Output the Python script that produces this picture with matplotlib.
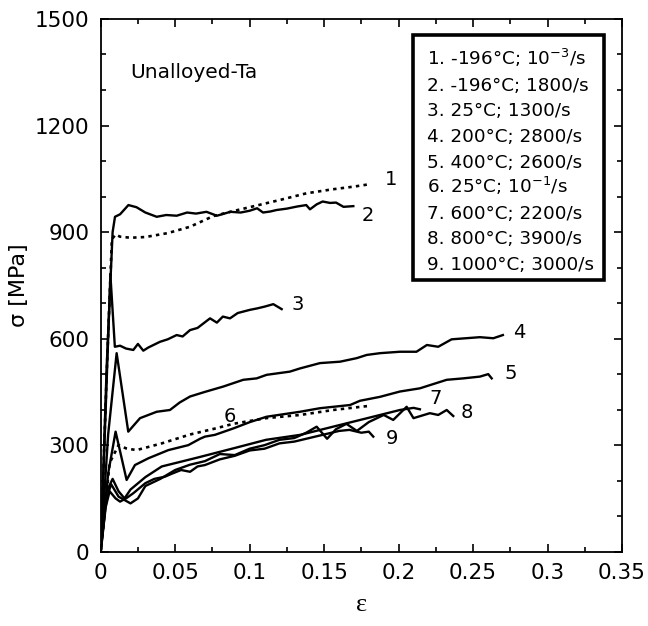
import numpy as np
import matplotlib
matplotlib.use("Agg")
import matplotlib.pyplot as plt
from matplotlib.ticker import MultipleLocator

plt.rcParams['font.family'] = ['DejaVu Sans']
plt.rcParams['mathtext.fontset'] = 'dejavusans'

# curve data (strain, stress in MPa)
c1_x = [0, 0.004, 0.0075, 0.010, 0.013, 0.02, 0.03, 0.045, 0.06, 0.0756, 0.09, 0.105, 0.12, 0.138, 0.155, 0.17, 0.181]
c1_y = [0, 500, 880, 893, 887, 884, 886, 897, 915, 945, 960, 975, 990, 1009, 1020, 1028, 1035]

c2_x = [0, 0.004, 0.008, 0.0096, 0.013, 0.0186, 0.024, 0.03, 0.0376, 0.044, 0.051, 0.058, 0.064, 0.071, 0.078,
        0.083, 0.087, 0.094, 0.1, 0.105, 0.109, 0.114, 0.118, 0.125, 0.132, 0.138, 0.1405, 0.145, 0.149, 0.154,
        0.158, 0.163, 0.1696]
c2_y = [0, 520, 900, 943, 950, 976, 970, 955, 943, 948, 946, 955, 952, 957, 946,
        952, 957, 955, 960, 967, 955, 958, 962, 966, 972, 976, 964, 978, 986, 982,
        983, 971, 973]

c3_x = [0, 0.004, 0.0065, 0.0095, 0.013, 0.017, 0.0219, 0.025, 0.0286, 0.032, 0.0398, 0.045, 0.051, 0.055,
        0.06, 0.065, 0.0734, 0.078, 0.082, 0.0868, 0.092, 0.1002, 0.105, 0.11, 0.1159, 0.1215]
c3_y = [0, 480, 780, 577, 580, 572, 568, 585, 566, 575, 591, 598, 610, 606,
        624, 630, 657, 645, 662, 657, 672, 681, 685, 690, 697, 683]

c4_x = [0, 0.005, 0.0107, 0.0185, 0.0264, 0.032, 0.0376, 0.0465, 0.053, 0.06, 0.07, 0.0823, 0.0957, 0.1047,
        0.1114, 0.127, 0.1338, 0.1472, 0.1607, 0.1719, 0.1786, 0.1876, 0.2009, 0.212, 0.219, 0.2266, 0.2356,
        0.2546, 0.2636, 0.27]
c4_y = [0, 330, 559, 338, 376, 385, 394, 399, 420, 437, 450, 465, 484, 488,
        498, 507, 516, 531, 535, 545, 554, 559, 563, 563, 582, 577, 598,
        604, 601, 610]

c5_x = [0, 0.005, 0.010, 0.0174, 0.023, 0.032, 0.0454, 0.0588, 0.0667, 0.07, 0.0767, 0.089, 0.1002, 0.1114,
        0.1338, 0.1472, 0.1674, 0.1741, 0.1875, 0.2009, 0.2143, 0.2323, 0.2434, 0.2546, 0.2602, 0.2625]
c5_y = [0, 220, 338, 202, 244, 263, 286, 300, 318, 324, 329, 347, 365, 380,
        394, 404, 413, 425, 436, 451, 460, 484, 488, 493, 500, 488]

c6_x = [0, 0.006, 0.012, 0.017, 0.024, 0.041, 0.06, 0.077, 0.089, 0.111, 0.134, 0.156, 0.179]
c6_y = [0, 250, 300, 291, 286, 305, 330, 347, 360, 376, 385, 399, 410]

c7_x = [0, 0.004, 0.008, 0.012, 0.016, 0.02, 0.03, 0.041, 0.065, 0.09, 0.111, 0.134, 0.156, 0.179, 0.2009,
        0.21, 0.2143]
c7_y = [0, 170, 205, 170, 150, 175, 210, 240, 265, 292, 315, 329, 352, 376, 399,
        405, 401]

c8_x = [0, 0.004, 0.007, 0.012, 0.02, 0.025, 0.03, 0.04, 0.05, 0.06, 0.07, 0.08, 0.09, 0.1, 0.11, 0.12, 0.13,
        0.138, 0.145, 0.152, 0.158, 0.165, 0.172, 0.18, 0.19, 0.1964, 0.2054, 0.21, 0.221, 0.2266, 0.2323, 0.2367]
c8_y = [0, 150, 190, 155, 136, 150, 185, 205, 230, 245, 255, 275, 272, 290, 300, 315, 320,
        335, 352, 318, 345, 360, 340, 365, 385, 371, 408, 376, 390, 385, 399, 382]

c9_x = [0, 0.003, 0.006, 0.01, 0.013, 0.017, 0.022, 0.03, 0.036, 0.043, 0.048, 0.054, 0.06, 0.065, 0.07,
        0.08, 0.09, 0.1, 0.11, 0.12, 0.13, 0.14, 0.15, 0.16, 0.167, 0.175, 0.18, 0.183]
c9_y = [0, 120, 170, 150, 141, 150, 165, 193, 205, 211, 220, 230, 225, 240, 244,
        260, 270, 285, 290, 305, 310, 320, 330, 340, 343, 335, 338, 324]

legend_lines = ["1. -196°C; 10$^{-3}$/s", "2. -196°C; 1800/s", "3. 25°C; 1300/s",
                "4. 200°C; 2800/s", "5. 400°C; 2600/s", "6. 25°C; 10$^{-1}$/s",
                "7. 600°C; 2200/s", "8. 800°C; 3900/s", "9. 1000°C; 3000/s"]

# label positions for the curve numbers
lab_txt = ["1", "2", "3", "4", "5", "6", "7", "8", "9"]
lab_x = [0.195, 0.1795, 0.1325, 0.281, 0.275, 0.0869, 0.2245, 0.246, 0.1956]
lab_y = [1047, 948, 695, 616, 503, 382, 432, 391, 320]

fig = plt.figure(figsize=(6.48, 6.26), dpi=100)
ax = fig.add_axes([0.1554, 0.1187, 0.8045, 0.851])

dotted = (0, (1.3, 1.6))
lw = 1.7
ax.plot(c1_x, c1_y, color='k', lw=1.9, linestyle=dotted)
for xs, ys in [(c2_x, c2_y), (c3_x, c3_y), (c4_x, c4_y), (c5_x, c5_y),
               (c7_x, c7_y), (c8_x, c8_y), (c9_x, c9_y)]:
    ax.plot(xs, ys, color='k', lw=lw)
ax.plot(c6_x, c6_y, color='k', lw=1.9, linestyle=dotted)

for t, x, y in zip(lab_txt, lab_x, lab_y):
    ax.text(x, y, t, fontsize=14, ha='center', va='center')

ax.text(0.0197, 1334, "Unalloyed-Ta", fontsize=14.5, ha='left', va='baseline')

# legend box
ax.add_patch(plt.Rectangle((0.2099, 765), 0.338 - 0.2099, 1455 - 765, fill=False,
                           lw=2.6, ec='k', zorder=5))
for i, s in enumerate(legend_lines):
    ax.text(0.219, 1370 - i * 72.1, s, fontsize=13.2, ha='left', va='baseline', zorder=6)

ax.set_xlim(0, 0.35)
ax.set_ylim(0, 1500)
ax.set_xticks([0, 0.05, 0.1, 0.15, 0.2, 0.25, 0.3, 0.35])
ax.set_xticklabels(["0", "0.05", "0.1", "0.15", "0.2", "0.25", "0.3", "0.35"])
ax.set_yticks([0, 300, 600, 900, 1200, 1500])
ax.xaxis.set_minor_locator(MultipleLocator(0.025))
ax.yaxis.set_minor_locator(MultipleLocator(100))
ax.tick_params(which='both', direction='in', top=True, right=True, labelsize=15.5, width=1.2)
ax.tick_params(which='major', length=6, pad=8)
ax.tick_params(which='minor', length=3.5)
for sp in ax.spines.values():
    sp.set_linewidth(1.3)

ax.set_xlabel("ε", fontsize=19, family=['Liberation Serif', 'DejaVu Serif'], labelpad=8)
ax.set_ylabel("σ [MPa]", fontsize=16, labelpad=4)

fig.savefig("out.png", dpi=100)
